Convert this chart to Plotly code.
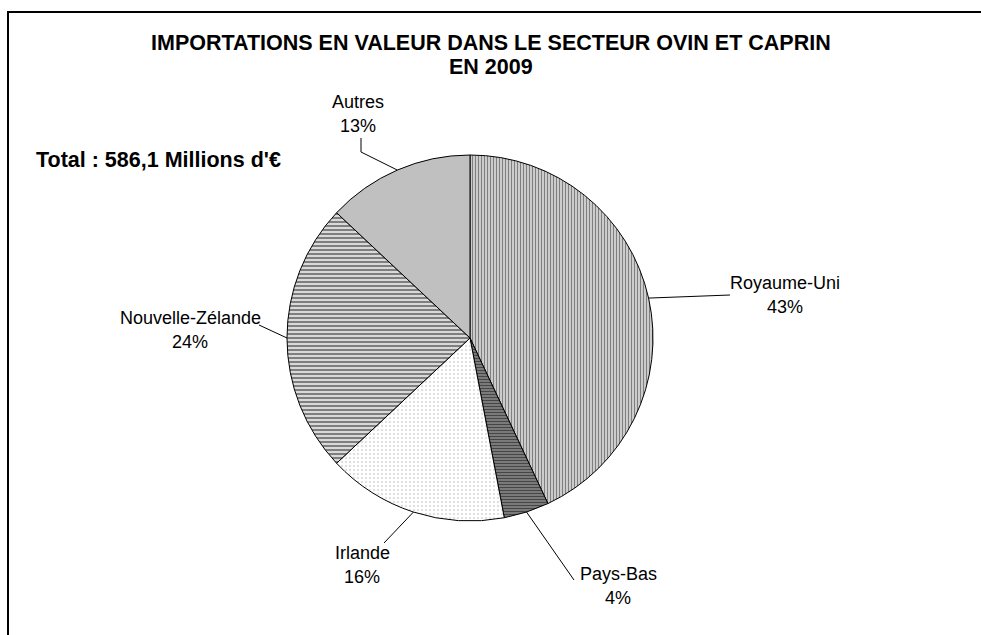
import math
import plotly.graph_objects as go

W, H = 981, 635

labels = ["Royaume-Uni", "Pays-Bas", "Irlande", "Nouvelle-Zélande", "Autres"]
values = [43, 4, 16, 24, 13]
pct_text = ["43%", "4%", "16%", "24%", "13%"]
title_lines = ["IMPORTATIONS EN VALEUR DANS LE SECTEUR OVIN ET CAPRIN", "EN 2009"]
total_text = "Total : 586,1 Millions d'€"

# pie geometry in pixels
CX, CY, R = 470, 338, 183


def px(x):
    return x / W


def py(y):
    return 1 - y / H


pat_shape = ["|", "-", ".", "-", ""]
pat_fg = ["black", "black", "#666666", "black", "#c0c0c0"]
pat_bg = ["white", "#8c8c8c", "white", "white", "#c0c0c0"]
pat_size = [3, 3, 4, 4, 4]
pat_solid = [0.6, 0.5, 0.12, 0.65, 0.5]
colors = ["white", "#8c8c8c", "white", "white", "#c0c0c0"]

fig = go.Figure()
fig.add_trace(go.Pie(
    labels=labels,
    values=values,
    sort=False,
    direction="clockwise",
    rotation=0,
    textinfo="none",
    hoverinfo="label+percent",
    showlegend=False,
    marker=dict(colors=colors, line=dict(color="black", width=1),
                pattern=dict(shape=pat_shape, fgcolor=pat_fg, bgcolor=pat_bg,
                             size=pat_size, solidity=pat_solid, fillmode="overlay")),
    domain=dict(x=[px(CX - R), px(CX + R)], y=[py(CY + R), py(CY - R)]),
))

# label positions (pixel centers of first line) and leader-line elbows
label_pos = [(785, 283), (618, 574), (362, 553), (190, 318), (358, 102)]
line_gap = 24
elbows = [
    [(730, 295)],
    [(574, 580)],
    [(384, 543)],
    [(259, 325)],
    [(361, 152), (361, 138)],
]

shapes = []
total = sum(values)
cum = 0
for i, v in enumerate(values):
    mid = (cum + v / 2) / total * 2 * math.pi
    cum += v
    sx = CX + R * math.sin(mid)
    sy = CY - R * math.cos(mid)
    pts = [(sx, sy)] + elbows[i]
    for (x0, y0), (x1, y1) in zip(pts[:-1], pts[1:]):
        shapes.append(dict(type="line", xref="paper", yref="paper",
                           x0=px(x0), y0=py(y0), x1=px(x1), y1=py(y1),
                           line=dict(color="black", width=1)))

# outer frame
shapes.append(dict(type="rect", xref="paper", yref="paper",
                   x0=px(8), y0=py(H + 20), x1=px(W + 20), y1=py(12),
                   line=dict(color="black", width=2), fillcolor="rgba(0,0,0,0)"))

annotations = []
FAM = "Liberation Sans, Arial, sans-serif"
font_reg = dict(family=FAM, size=18, color="black")
font_bold = dict(family=FAM, size=21.5, color="black")


def ann(x, y, text, font, xanchor="center"):
    annotations.append(dict(x=px(x), y=py(y), xref="paper", yref="paper",
                            text=text, showarrow=False, font=font,
                            xanchor=xanchor, yanchor="middle"))


for (x, y), lab, pt in zip(label_pos, labels, pct_text):
    ann(x, y, lab, font_reg)
    ann(x, y + line_gap, pt, font_reg)

ann(491, 43, "<b>" + title_lines[0] + "</b>", font_bold)
ann(491, 67, "<b>" + title_lines[1] + "</b>", font_bold)
ann(34, 160, "<b>" + total_text + "</b>", font_bold, xanchor="left")

fig.update_layout(
    width=W, height=H,
    margin=dict(l=0, r=0, t=0, b=0),
    paper_bgcolor="white", plot_bgcolor="white",
    shapes=shapes, annotations=annotations,
)

fig.write_html("out.html", config={"displayModeBar": False},
               post_script="document.body.style.margin='0';document.body.style.overflow='hidden';")
